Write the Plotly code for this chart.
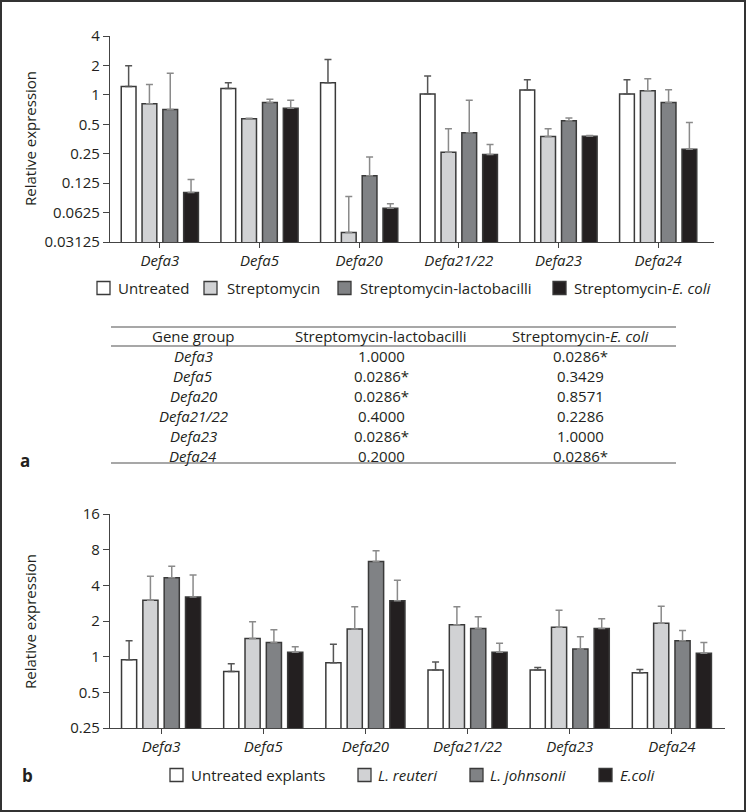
import math
import plotly.graph_objects as go

W, H = 746, 812
FONT = 'Open Sans'
TXT = '#231f20'

genes = ['Defa3', 'Defa5', 'Defa20', 'Defa21/22', 'Defa23', 'Defa24']

# panel a - relative expression (mean) and upper SD
untreated_a = [1.22, 1.16, 1.33, 1.02, 1.12, 1.02]
strep_a = [0.81, 0.57, 0.039, 0.259, 0.374, 1.10]
lacto_a = [0.71, 0.835, 0.149, 0.41, 0.544, 0.835]
ecoli_a = [0.10, 0.73, 0.069, 0.245, 0.377, 0.278]
untreated_a_sd = [0.77, 0.17, 0.97, 0.54, 0.31, 0.41]
strep_a_sd = [0.47, 0.005, 0.052, 0.19, 0.076, 0.36]
lacto_a_sd = [0.95, 0.065, 0.083, 0.47, 0.036, 0.295]
ecoli_a_sd = [0.036, 0.15, 0.008, 0.065, 0.008, 0.242]
names_a = ['Untreated', 'Streptomycin', 'Streptomycin-lactobacilli', 'Streptomycin-<i>E. coli</i>']
ticks_a = [0.03125, 0.0625, 0.125, 0.25, 0.5, 1, 2, 4]
ticklabels_a = ['0.03125', '0.0625', '0.125', '0.25', '0.5', '1', '2', '4']

# panel b
untreated_b = [0.94, 0.75, 0.89, 0.77, 0.77, 0.73]
reuteri_b = [3.0, 1.42, 1.71, 1.86, 1.77, 1.91]
johnsonii_b = [4.64, 1.32, 6.37, 1.73, 1.16, 1.36]
ecoli_b = [3.19, 1.09, 2.97, 1.09, 1.73, 1.07]
untreated_b_sd = [0.42, 0.12, 0.38, 0.13, 0.04, 0.05]
reuteri_b_sd = [1.77, 0.55, 0.93, 0.78, 0.69, 0.75]
johnsonii_b_sd = [1.16, 0.37, 1.46, 0.44, 0.31, 0.30]
ecoli_b_sd = [1.70, 0.12, 1.44, 0.21, 0.36, 0.25]
names_b = ['Untreated explants', '<i>L. reuteri</i>', '<i>L. johnsonii</i>', '<i>E.coli</i>']
ticks_b = [0.25, 0.5, 1, 2, 4, 8, 16]
ticklabels_b = ['0.25', '0.5', '1', '2', '4', '8', '16']

# p-value table
table_header = ['Gene group', 'Streptomycin-lactobacilli', 'Streptomycin-<i>E. coli</i>']
p_lacto = ['1.0000', '0.0286*', '0.0286*', '0.4000', '0.0286*', '0.2000']
p_ecoli = ['0.0286*', '0.3429', '0.8571', '0.2286', '1.0000', '0.0286*']

fills = ['#ffffff', '#d1d2d4', '#808285', '#231f20']
err_colors = ['#555555', '#8a8a8a', '#8a8a8a', '#8a8a8a']
EDGE = '#3a3a3a'


def px(x):
    return x / W


def py(y):
    return 1 - y / H


fig = go.Figure()

series_a = [untreated_a, strep_a, lacto_a, ecoli_a]
sd_a = [untreated_a_sd, strep_a_sd, lacto_a_sd, ecoli_a_sd]
series_b = [untreated_b, reuteri_b, johnsonii_b, ecoli_b]
sd_b = [untreated_b_sd, reuteri_b_sd, johnsonii_b_sd, ecoli_b_sd]

for vals_list, sd_list, names, xa, ya in [(series_a, sd_a, names_a, 'x', 'y'),
                                           (series_b, sd_b, names_b, 'x2', 'y2')]:
    for i in range(4):
        fig.add_trace(go.Bar(
            x=genes, y=vals_list[i], name=names[i],
            marker=dict(color=fills[i], line=dict(color=EDGE, width=1.5)),
            error_y=dict(type='data', symmetric=False, array=sd_list[i],
                         arrayminus=[0] * len(genes), color=err_colors[i],
                         thickness=1.5, width=3.5),
            xaxis=xa, yaxis=ya, showlegend=False, hoverinfo='x+y'
        ))

# automargin off: the default template would otherwise push the margins
axis_common = dict(showline=True, linecolor='#444444', linewidth=1.2, ticks='outside',
                   tickcolor='#444444', showgrid=False, zeroline=False, automargin=False,
                   tickfont=dict(family=FONT, size=15, color=TXT))

fig.update_layout(
    template='none',
    width=W, height=H,
    margin=dict(l=0, r=0, t=0, b=0, pad=0, autoexpand=False),
    paper_bgcolor='white', plot_bgcolor='white',
    showlegend=False,
    barmode='group', bargap=0.165, bargroupgap=0.29,
    xaxis=dict(axis_common, domain=[px(110), px(714)], anchor='y', range=[-0.5, 5.56],
               ticklen=5, tickfont=dict(family=FONT, size=15, color=TXT, style='italic')),
    yaxis=dict(axis_common, domain=[py(242), py(36)], anchor='x', type='log',
               range=[math.log10(ticks_a[0]), math.log10(ticks_a[-1])],
               tickvals=ticks_a, ticktext=ticklabels_a, ticklen=6),
    xaxis2=dict(axis_common, domain=[px(110), px(725)], anchor='y2', range=[-0.5, 5.52],
                ticklen=5, tickfont=dict(family=FONT, size=15, color=TXT, style='italic')),
    yaxis2=dict(axis_common, domain=[py(728), py(514)], anchor='x2', type='log',
                range=[math.log10(ticks_b[0]), math.log10(ticks_b[-1])],
                tickvals=ticks_b, ticktext=ticklabels_b, ticklen=6),
)

shapes = []
annotations = []


def text(x, y, s, size=15, anchor='center', bold=False, angle=0):
    annotations.append(dict(
        x=px(x), y=py(y), xref='paper', yref='paper', text=s, showarrow=False,
        xanchor=anchor, yanchor='middle', textangle=angle,
        font=dict(family=FONT, size=size, color=TXT, weight='bold' if bold else 'normal')))


# y axis titles
text(30, 139, 'Relative expression', angle=-90)
text(30, 622, 'Relative expression', angle=-90)

# hand-made legends (box + label)
legend_a_box = [97, 204, 338, 553]
legend_a_txt = [116, 225, 358, 572]
legend_b_box = [170, 358, 470, 599]
legend_b_txt = [189, 376, 488, 618]
for boxes, labels, names, ly in [(legend_a_box, legend_a_txt, names_a, 288),
                                 (legend_b_box, legend_b_txt, names_b, 775)]:
    for i in range(4):
        shapes.append(dict(type='rect', xref='paper', yref='paper',
                           x0=px(boxes[i]), x1=px(boxes[i] + 13),
                           y0=py(ly + 6.5), y1=py(ly - 6.5),
                           fillcolor=fills[i], line=dict(color=EDGE, width=1.3)))
        text(labels[i], ly, names[i], anchor='left')

# panel labels
text(25, 460, 'a', size=17, bold=True)
text(27, 775, 'b', size=17, bold=True)

# table of p values
col_x = [193, 381, 580]
for j, h in enumerate(table_header):
    text(col_x[j], 336, h)
for r, g in enumerate(genes):
    yy = 356 + r * 20
    text(col_x[0], yy, '<i>%s</i>' % g)
    text(col_x[1], yy, p_lacto[r])
    text(col_x[2], yy, p_ecoli[r])
for ly in [327, 346, 463]:
    shapes.append(dict(type='line', xref='paper', yref='paper', x0=px(111), x1=px(676),
                       y0=py(ly), y1=py(ly), line=dict(color='#8a8a8a', width=1.5)))

# outer frame
shapes.append(dict(type='rect', xref='paper', yref='paper', x0=px(1), x1=px(745),
                   y0=py(811), y1=py(1), line=dict(color='#333333', width=2)))

fig.update_layout(shapes=shapes, annotations=annotations)

# pin the figure to the top-left corner of the window (no page margins)
pin = ("document.body.style.margin='0';"
       "var d=document.getElementById('{plot_id}');"
       "d.style.position='fixed';d.style.left='0';d.style.top='0';")
fig.write_html('out.html', config={'displayModeBar': False}, post_script=pin)
